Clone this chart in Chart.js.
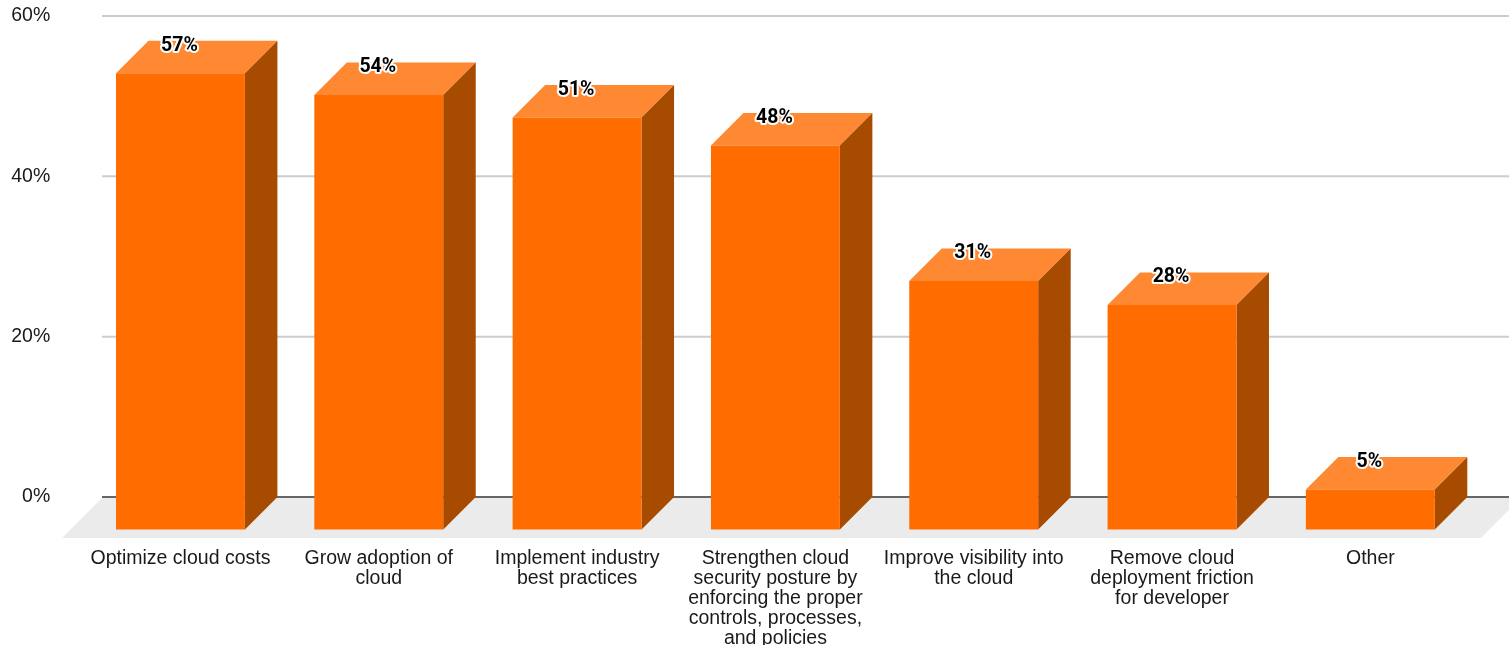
<!DOCTYPE html>
<html>
<head>
<meta charset="utf-8">
<title>Cloud goals</title>
<script src="https://cdn.jsdelivr.net/npm/chart.js@4"></script>
<style>
    html, body { margin: 0; padding: 0; background: #fff; overflow: hidden; }
    canvas { display: block; }
</style>
</head>
<body>
<canvas id="chart" width="1509" height="645"></canvas>
<script>
const categories = [
    ['Optimize cloud costs'],
    ['Grow adoption of', 'cloud'],
    ['Implement industry', 'best practices'],
    ['Strengthen cloud', 'security posture by', 'enforcing the proper', 'controls, processes,', 'and policies'],
    ['Improve visibility into', 'the cloud'],
    ['Remove cloud', 'deployment friction', 'for developer'],
    ['Other']
];
const values = [56.9, 54.2, 51.4, 47.9, 31, 28, 5];
const yTicks = [0, 20, 40, 60];

const DEPTH = 32.5;          // fake 3d offset, px
const AXIS_FONT = 'Liberation Sans, Arial, sans-serif';

// back wall lines + floor, they sit behind the bars and run past the plot area
const backdrop = {
    id: 'backdrop',
    beforeDatasetsDraw(chart) {
        const { ctx, scales: { y } } = chart;
        const zero = y.getPixelForValue(0);
        ctx.save();
        ctx.fillStyle = '#ebebeb';
        ctx.beginPath();
        ctx.moveTo(103, zero);
        ctx.lineTo(1522, zero);
        ctx.lineTo(1481, zero + 41);
        ctx.lineTo(62, zero + 41);
        ctx.closePath();
        ctx.fill();
        yTicks.forEach(t => {
            const py = y.getPixelForValue(t);
            ctx.strokeStyle = t === 0 ? '#666666' : '#cccccc';
            ctx.lineWidth = 2;
            ctx.beginPath();
            ctx.moveTo(102, py);
            ctx.lineTo(1509, py);
            ctx.stroke();
        });
        ctx.restore();
    }
};

// top and side faces, then slide the library's bar down to become the front face
const bars3d = {
    id: 'bars3d',
    beforeDatasetDraw(chart, args) {
        const { ctx } = chart;
        args.meta.data.forEach(bar => {
            const l = bar.x - bar.width / 2;
            const r = bar.x + bar.width / 2;
            ctx.fillStyle = '#ff8833';
            ctx.beginPath();
            ctx.moveTo(l, bar.y + DEPTH);
            ctx.lineTo(l + DEPTH, bar.y);
            ctx.lineTo(r + DEPTH, bar.y);
            ctx.lineTo(r, bar.y + DEPTH);
            ctx.closePath();
            ctx.fill();
            ctx.fillStyle = '#a64b00';
            ctx.beginPath();
            ctx.moveTo(r, bar.y + DEPTH);
            ctx.lineTo(r + DEPTH, bar.y);
            ctx.lineTo(r + DEPTH, bar.base);
            ctx.lineTo(r, bar.base + DEPTH);
            ctx.closePath();
            ctx.fill();
        });
        ctx.save();
        ctx.translate(0, DEPTH);
    },
    afterDatasetDraw(chart) {
        chart.ctx.restore();
    },
    afterDatasetsDraw(chart) {
        const { ctx } = chart;
        ctx.save();
        ctx.font = 'bold 19.5px Roboto, sans-serif';
        ctx.textAlign = 'center';
        ctx.textBaseline = 'middle';
        ctx.lineJoin = 'round';
        chart.getDatasetMeta(0).data.forEach((bar, i) => {
            const txt = Math.round(values[i]) + '%';
            ctx.lineWidth = 4;
            ctx.strokeStyle = '#ffffff';
            ctx.strokeText(txt, bar.x - 1, bar.y + 5);
            ctx.fillStyle = '#000000';
            ctx.fillText(txt, bar.x - 1, bar.y + 5);
        });
        ctx.restore();
    }
};

new Chart(document.getElementById('chart').getContext('2d'), {
    type: 'bar',
    data: {
        labels: categories,
        datasets: [{
            data: values,
            backgroundColor: '#ff6d01',
            borderWidth: 0,
            barPercentage: 0.65,
            categoryPercentage: 1,
            clip: false
        }]
    },
    options: {
        responsive: false,
        animation: false,
        devicePixelRatio: 1,
        layout: { padding: { top: 16, right: 39.5, left: 0, bottom: 0 } },
        plugins: { legend: { display: false }, tooltip: { enabled: false } },
        scales: {
            x: {
                grid: { display: false },
                border: { display: false },
                afterFit: s => { s.height = 148; },
                ticks: {
                    autoSkip: false,
                    maxRotation: 0,
                    padding: 44,
                    color: '#1a1a1a',
                    font: { family: AXIS_FONT, size: 19.5, lineHeight: 20 / 19.5 }
                }
            },
            y: {
                min: 0,
                max: 60,
                grid: { display: false },
                border: { display: false },
                // the tall x labels otherwise push the top of this axis down
                afterFit: s => { s.width = 81.3; s.paddingTop = 0; s.paddingBottom = 0; },
                ticks: {
                    stepSize: 20,
                    padding: 23,
                    color: '#1a1a1a',
                    font: { family: AXIS_FONT, size: 19.5 },
                    callback: v => v + '%'
                }
            }
        }
    },
    plugins: [backdrop, bars3d]
});
</script>
</body>
</html>
